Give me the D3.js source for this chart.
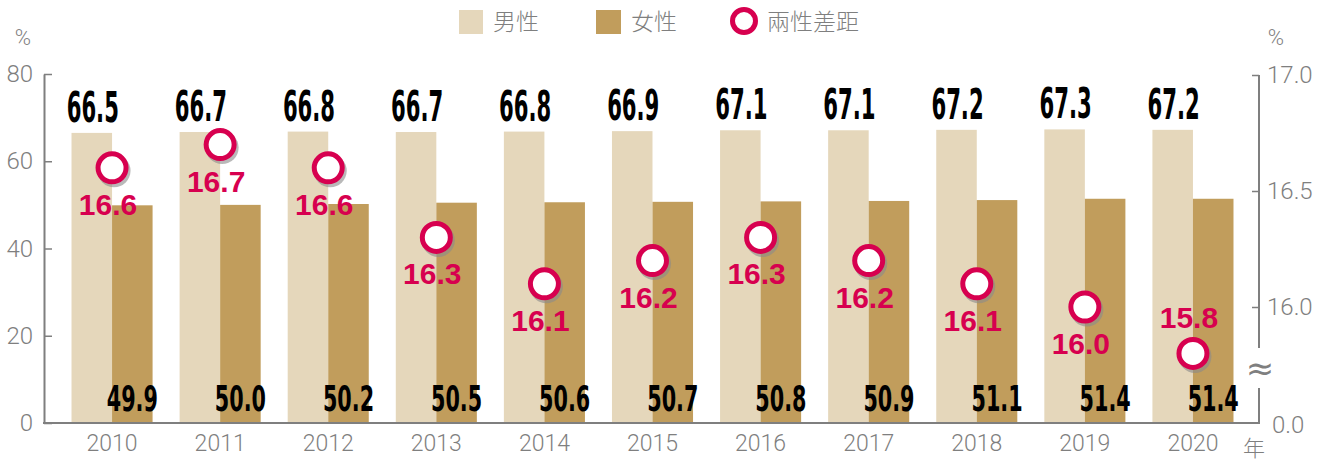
<!DOCTYPE html>
<html>
<head>
<meta charset="utf-8">
<script src="https://cdn.jsdelivr.net/npm/d3@7"></script>
<style>
	body { margin: 0; background: #fff; }
	#chart svg { display: block; }
</style>
</head>
<body>
<div id="chart"></div>
<script>
// data
var years = ["2010","2011","2012","2013","2014","2015","2016","2017","2018","2019","2020"];
var male = [66.5, 66.7, 66.8, 66.7, 66.8, 66.9, 67.1, 67.1, 67.2, 67.3, 67.2];
var female = [49.9, 50.0, 50.2, 50.5, 50.6, 50.7, 50.8, 50.9, 51.1, 51.4, 51.4];
var gap = [16.6, 16.7, 16.6, 16.3, 16.1, 16.2, 16.3, 16.2, 16.1, 16.0, 15.8];
var leftTicks = [0, 20, 40, 60, 80];
var rightTicks = [16.0, 16.5, 17.0];
var legendLabels = ["男性", "女性", "兩性差距"];

function init(){
	var w = 1325;
	var h = 461;

	var cMale = "#e5d7bb",
		cFemale = "#c19d5c",
		cPink = "#d7004f",
		cGrey = "#7f7f7f";

	var numFont = "'DejaVu Sans Condensed', 'DejaVu Sans', sans-serif";
	var tickFont = "Roboto, 'Liberation Sans', sans-serif";

	var svg = d3.select("#chart")
				.append("svg")
				.attr("width", w)
				.attr("height", h);

	var x = d3.scaleBand()
				.domain(years)
				.range([58, 1247])
				.paddingInner(0.25)
				.paddingOuter(0.125);

	var half = d3.scaleBand()
				.domain(["m","f"])
				.range([0, x.bandwidth()]);

	var y = d3.scaleLinear()
				.domain([0, 80])
				.range([423, 74]);

	//right axis for the gap, broken below 16
	var yR = d3.scaleLinear()
				.domain([15.5, 17])
				.range([423, 75]);

	var rows = years.map(function(d, i){
		return {year: d, male: male[i], female: female[i], gap: gap[i], i: i};
	});

	//bars
	svg.selectAll("rect.male")
		.data(rows)
		.enter()
		.append("rect")
		.attr("class", "male")
		.attr("x", function(d){ return x(d.year) + half("m"); })
		.attr("y", function(d){ return y(d.male); })
		.attr("width", half.bandwidth())
		.attr("height", function(d){ return y(0) - y(d.male); })
		.attr("fill", cMale);

	svg.selectAll("rect.female")
		.data(rows)
		.enter()
		.append("rect")
		.attr("class", "female")
		.attr("x", function(d){ return x(d.year) + half("f"); })
		.attr("y", function(d){ return y(d.female); })
		.attr("width", half.bandwidth())
		.attr("height", function(d){ return y(0) - y(d.female); })
		.attr("fill", cFemale);

	//left axis
	var gL = svg.append("g")
				.attr("transform", "translate(44,0)")
				.call(d3.axisLeft(y).tickValues(leftTicks).tickSizeInner(-8).tickSizeOuter(0).tickPadding(11));
	gL.select(".domain").attr("stroke", cGrey).attr("stroke-width", 2);
	gL.selectAll(".tick line").attr("stroke", cGrey).attr("stroke-width", 1.5);
	gL.selectAll(".tick text")
		.attr("fill", cGrey)
		.style("font-family", tickFont)
		.style("font-weight", 300)
		.style("font-size", "24px");

	//bottom axis
	var gB = svg.append("g")
				.attr("transform", "translate(0,423)")
				.call(d3.axisBottom(x).tickSize(0).tickPadding(12));
	gB.select(".domain").remove();
	gB.selectAll(".tick text")
		.attr("fill", cGrey)
		.style("font-family", tickFont)
		.style("font-weight", 300)
		.style("font-size", "23px");
	svg.append("line")
		.attr("x1", 43).attr("x2", 1260)
		.attr("y1", 423).attr("y2", 423)
		.attr("stroke", cGrey)
		.attr("stroke-width", 2);

	//right axis
	var gR = svg.append("g")
				.attr("transform", "translate(1259,0)")
				.call(d3.axisRight(yR).tickValues(rightTicks).tickFormat(d3.format(".1f")).tickSizeInner(-7).tickSizeOuter(0).tickPadding(8));
	gR.select(".domain").remove();
	gR.selectAll(".tick line").attr("stroke", cGrey).attr("stroke-width", 1.5);
	gR.selectAll(".tick text")
		.attr("fill", cGrey)
		.style("font-family", tickFont)
		.style("font-weight", 300)
		.style("font-size", "24px");
	gR.append("line")
		.attr("y1", yR(17)).attr("y2", 348)
		.attr("stroke", cGrey).attr("stroke-width", 2);
	gR.append("line")
		.attr("y1", 388).attr("y2", yR(15.5))
		.attr("stroke", cGrey).attr("stroke-width", 2);
	gR.append("text")
		.attr("x", 1)
		.attr("y", 368)
		.attr("dy", "0.35em")
		.attr("text-anchor", "middle")
		.attr("fill", cGrey)
		.style("font-family", "'DejaVu Sans', sans-serif")
		.style("font-size", "34px")
		.text("≈");
	gR.append("text")
		.attr("x", 13)
		.attr("y", 425)
		.attr("dy", "0.32em")
		.attr("fill", cGrey)
		.style("font-family", tickFont)
		.style("font-weight", 300)
		.style("font-size", "24px")
		.text("0.0");

	//units
	svg.append("text")
		.attr("x", 23).attr("y", 45)
		.attr("text-anchor", "middle")
		.attr("fill", cGrey)
		.style("font-family", tickFont)
		.style("font-weight", 300)
		.style("font-size", "22px")
		.text("%");
	svg.append("text")
		.attr("x", 1276).attr("y", 45)
		.attr("text-anchor", "middle")
		.attr("fill", cGrey)
		.style("font-family", tickFont)
		.style("font-weight", 300)
		.style("font-size", "22px")
		.text("%");
	svg.append("text")
		.attr("x", 1254).attr("y", 456)
		.attr("text-anchor", "middle")
		.attr("fill", cGrey)
		.style("font-family", "'Noto Sans CJK TC', sans-serif")
		.style("font-weight", 300)
		.style("font-size", "22px")
		.text("年");

	//value labels on bars (condensed bold numbers)
	svg.selectAll("text.mlab")
		.data(rows)
		.enter()
		.append("text")
		.attr("class", "mlab")
		.attr("transform", function(d){
			return "translate(" + (x(d.year) + half("m") + half.bandwidth()/2 + 1) + "," + (y(d.male) - 11) + ") scale(0.56,1)";
		})
		.attr("text-anchor", "middle")
		.attr("fill", "#000")
		.style("font-family", numFont)
		.style("font-weight", "bold")
		.style("font-size", "42px")
		.text(function(d){ return d3.format(".1f")(d.male); });

	svg.selectAll("text.flab")
		.data(rows)
		.enter()
		.append("text")
		.attr("class", "flab")
		.attr("transform", function(d){
			return "translate(" + (x(d.year) + half("f") + half.bandwidth()/2) + "," + (y(0) - 12) + ") scale(0.64,1)";
		})
		.attr("text-anchor", "middle")
		.attr("fill", "#000")
		.style("font-family", numFont)
		.style("font-weight", "bold")
		.style("font-size", "36px")
		.text(function(d){ return d3.format(".1f")(d.female); });

	//gap markers
	var cx = function(d){ return x(d.year) + x.bandwidth()/2; };

	svg.selectAll("circle.shadow")
		.data(rows)
		.enter()
		.append("circle")
		.attr("class", "shadow")
		.attr("cx", function(d){ return cx(d) + 2; })
		.attr("cy", function(d){ return yR(d.gap) + 3; })
		.attr("r", 16.5)
		.attr("fill", "#8a8a8a")
		.attr("opacity", 0.6);

	svg.selectAll("circle.gap")
		.data(rows)
		.enter()
		.append("circle")
		.attr("class", "gap")
		.attr("cx", cx)
		.attr("cy", function(d){ return yR(d.gap); })
		.attr("r", 14)
		.attr("fill", "#fff")
		.attr("stroke", cPink)
		.attr("stroke-width", 5);

	svg.selectAll("text.glab")
		.data(rows)
		.enter()
		.append("text")
		.attr("class", "glab")
		.attr("x", function(d){ return cx(d) - 4; })
		.attr("y", function(d){
			//last label sits above its circle
			return d.i === rows.length - 1 ? yR(d.gap) - 25 : yR(d.gap) + 47;
		})
		.attr("text-anchor", "middle")
		.attr("fill", cPink)
		.style("font-family", "'Liberation Sans', Arial, sans-serif")
		.style("font-weight", "bold")
		.style("font-size", "30px")
		.text(function(d){ return d3.format(".1f")(d.gap); });

	//legend
	var legend = svg.append("g");
	var lgX = [459, 596, 730];

	legend.append("rect")
		.attr("x", lgX[0]).attr("y", 10)
		.attr("width", 24).attr("height", 24)
		.attr("fill", cMale);
	legend.append("rect")
		.attr("x", lgX[1]).attr("y", 10)
		.attr("width", 25).attr("height", 24)
		.attr("fill", cFemale);
	legend.append("circle")
		.attr("cx", lgX[2] + 14).attr("cy", 21)
		.attr("r", 11.5)
		.attr("fill", "#fff")
		.attr("stroke", cPink)
		.attr("stroke-width", 5);

	legend.selectAll("text")
		.data(legendLabels)
		.enter()
		.append("text")
		.attr("x", function(d, i){ return [493, 631, 767][i]; })
		.attr("y", 22)
		.attr("dy", "0.36em")
		.attr("fill", cGrey)
		.style("font-family", "'Noto Sans CJK TC', sans-serif")
		.style("font-weight", 300)
		.style("font-size", "23px")
		.text(function(d){ return d; });
}

window.onload = init;
</script>
</body>
</html>
